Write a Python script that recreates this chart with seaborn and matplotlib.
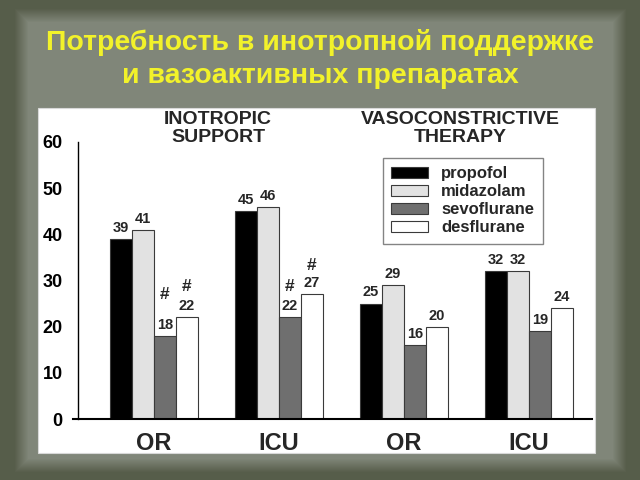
import numpy as np
import pandas as pd
import matplotlib
matplotlib.use("Agg")
import matplotlib.pyplot as plt
import seaborn as sns

# ---------------- data ----------------
title_lines = ["Потребность в инотропной поддержке", "и вазоактивных препаратах"]
panel_titles = ["INOTROPIC\nSUPPORT", "VASOCONSTRICTIVE\nTHERAPY"]
groups = ["OR", "ICU", "OR", "ICU"]
agents = ["propofol", "midazolam", "sevoflurane", "desflurane"]
propofol = [39, 45, 25, 32]
midazolam = [41, 46, 29, 32]
sevoflurane = [18, 22, 16, 19]
desflurane = [22, 27, 20, 24]
# '#' significance marks: (agent, group index)
hash_marks = [("sevoflurane", 0), ("desflurane", 0), ("sevoflurane", 1), ("desflurane", 1)]
yticks = [0, 10, 20, 30, 40, 50, 60]

series = {"propofol": propofol, "midazolam": midazolam,
          "sevoflurane": sevoflurane, "desflurane": desflurane}
slots = [f"g{i}" for i in range(len(groups))]
rows = []
for a in agents:
    for i, s in enumerate(slots):
        rows.append({"slot": s, "agent": a, "value": series[a][i]})
df = pd.DataFrame(rows)

# ---------------- style ----------------
sns.set_theme(style="white")
plt.rcParams["font.family"] = ["Liberation Sans", "DejaVu Sans"]

W, H = 640, 480
fig = plt.figure(figsize=(6.4, 4.8), dpi=100)

# background (dark olive frame with lighter inner paper)
bg = fig.add_axes([0, 0, 1, 1], zorder=-10)
yy, xx = np.mgrid[0:H, 0:W]
d = np.minimum.reduce([xx - 20, 620 - xx, yy - 14, 466 - yy]).astype(float)
t = np.clip((d + 6) / 14.0, 0, 1)
outer = np.array([86, 93, 74]) / 255
inner = np.array([128, 134, 121]) / 255
img = outer[None, None, :] * (1 - t[..., None]) + inner[None, None, :] * t[..., None]
bg.imshow(img, extent=[0, W, H, 0], aspect="auto", interpolation="bilinear")
bg.set_xlim(0, W); bg.set_ylim(H, 0); bg.axis("off")

# white panel
bg.add_patch(plt.Rectangle((37.5, 108), 557.5, 345, facecolor="white",
                           edgecolor="#d8d8d8", linewidth=0.8))

# title
fig.text(0.5, 1 - 43 / H, title_lines[0], ha="center", va="center",
         fontsize=20.5, fontweight="bold", color="#f2f22a")
fig.text(0.5, 1 - 76 / H, title_lines[1], ha="center", va="center",
         fontsize=20.5, fontweight="bold", color="#f2f22a")

# chart axes
ax = fig.add_axes([78 / W, 1 - 419 / H, (592 - 78) / W, 277 / H])
ax.set_facecolor("none")
colors = {"propofol": "#000000", "midazolam": "#e2e2e2",
          "sevoflurane": "#6f6f6f", "desflurane": "#ffffff"}
sns.barplot(data=df, x="slot", y="value", hue="agent", order=slots, hue_order=agents,
            palette=colors, saturation=1, width=0.704, gap=0, errorbar=None,
            edgecolor="#3a3a3a", linewidth=0.8, ax=ax)

ax.set_xlim(-0.608, 3.504)
ax.set_ylim(0, 60)
ax.set_yticks(yticks)
ax.set_yticklabels([str(v) for v in yticks], fontsize=13, fontweight="bold")
ax.set_xticks(range(len(groups)))
ax.set_xticklabels(groups, fontsize=17, fontweight="bold")
ax.tick_params(axis="x", length=0, pad=9)
ax.tick_params(axis="y", length=5, width=1, direction="out", pad=6, colors="black")
ax.set_xlabel(""); ax.set_ylabel("")
for s in ["top", "right"]:
    ax.spines[s].set_visible(False)
ax.spines["left"].set_color("black"); ax.spines["left"].set_linewidth(1)
ax.spines["bottom"].set_color("black"); ax.spines["bottom"].set_linewidth(1.5)
ax.spines["bottom"].set_bounds(-0.648, 3.504)
ax.spines["bottom"].set_clip_on(False)

# value labels
hash_offsets = {("sevoflurane", 0): (0, 30), ("desflurane", 0): (0, 22),
                ("sevoflurane", 1): (0, 22), ("desflurane", 1): (0, 21)}
for ai, a in enumerate(agents):
    cont = ax.containers[ai]
    for gi, bar in enumerate(cont):
        x = bar.get_x() + bar.get_width() / 2
        top = bar.get_height()
        ax.annotate(str(series[a][gi]), (x, top), xytext=(0, 8), textcoords="offset points",
                    ha="center", va="center", fontsize=10.5, fontweight="bold")
        if (a, gi) in hash_marks:
            dx, dy = hash_offsets[(a, gi)]
            ax.annotate("#", (x, top), xytext=(dx, dy), textcoords="offset points",
                        ha="center", va="center", fontsize=12.5, fontweight="bold")

# panel subtitles
fig.text(218 / W, 1 - 111 / H, panel_titles[0], ha="center", va="top",
         fontsize=14, fontweight="bold", linespacing=1.1)
fig.text(460 / W, 1 - 111 / H, panel_titles[1], ha="center", va="top",
         fontsize=14, fontweight="bold", linespacing=1.1)

# legend
leg = ax.legend(loc="upper left", bbox_to_anchor=((383 - 78) / 514, (419 - 158) / 277),
                borderaxespad=0, frameon=True, fancybox=False,
                prop={"weight": "bold", "size": 12}, handlelength=2.2, handleheight=0.6,
                labelspacing=0.18, handletextpad=0.8, borderpad=0.5)
leg.get_frame().set_edgecolor("#666666")
leg.get_frame().set_linewidth(1)

fig.savefig("out.png", dpi=100)
